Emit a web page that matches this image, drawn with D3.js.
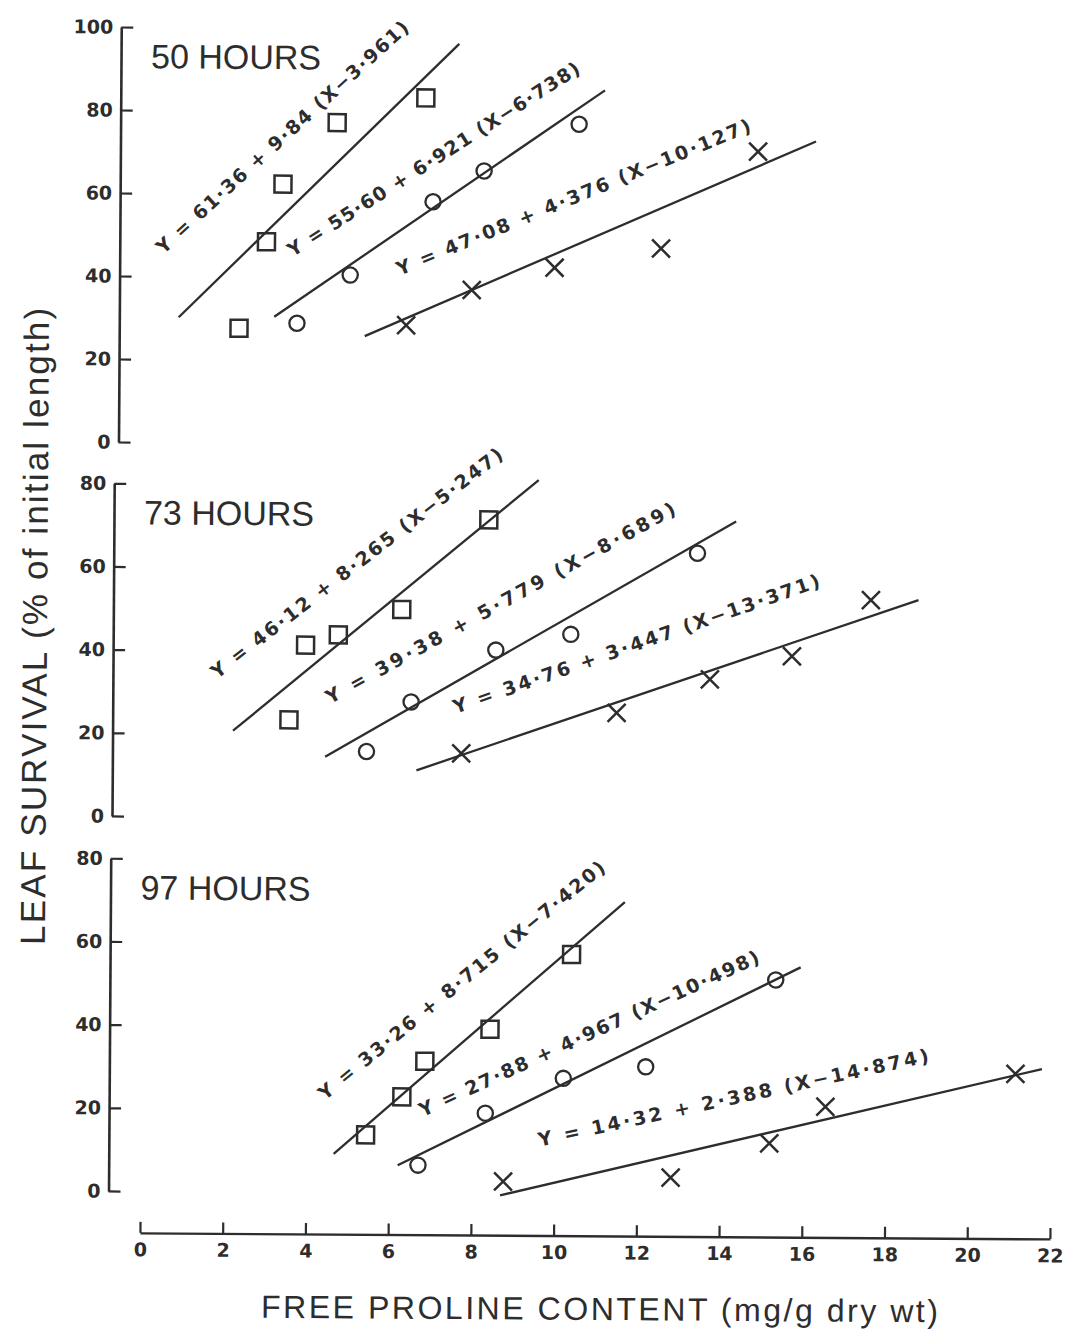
<!DOCTYPE html>
<html>
<head>
<meta charset="utf-8">
<script src="https://cdn.jsdelivr.net/npm/d3@7"></script>
<style>
  html, body { margin: 0; padding: 0; background: #fff; }
  svg { display: block; }
</style>
</head>
<body>
<script>
// ---- data -------------------------------------------------------------
const xTicks = [0, 2, 4, 6, 8, 10, 12, 14, 16, 18, 20, 22];
const panelTitles = ["50 HOURS", "73 HOURS", "97 HOURS"];
const yTicks50 = [0, 20, 40, 60, 80, 100];
const yTicks73 = [0, 20, 40, 60, 80];
const yTicks97 = [0, 20, 40, 60, 80];

// 50 hours
const sq50X = [2.25, 2.90, 3.29, 4.59, 6.73];
const sq50Y = [27.6, 48.5, 62.4, 77.3, 83.4];
const ci50X = [3.65, 4.93, 6.92, 8.15, 10.44];
const ci50Y = [28.9, 40.6, 58.4, 65.9, 77.3];
const cr50X = [6.29, 7.87, 9.87, 12.44, 14.77];
const cr50Y = [28.6, 37.2, 42.7, 47.5, 71.0];
// 73 hours
const sq73X = [3.52, 3.91, 4.70, 6.23, 8.32];
const sq73Y = [23.4, 41.4, 43.9, 50.1, 71.8];
const ci73X = [5.40, 6.47, 8.51, 10.32, 13.37];
const ci73Y = [15.9, 27.9, 40.5, 44.4, 64.1];
const cr73X = [7.69, 11.44, 13.69, 15.67, 17.57];
const cr73Y = [15.6, 25.6, 33.8, 39.5, 53.1];
// 97 hours
const sq97X = [5.44, 6.31, 6.86, 8.43, 10.39];
const sq97Y = [13.9, 23.1, 31.7, 39.5, 57.6];
const ci97X = [6.71, 8.33, 10.21, 12.20, 15.33];
const ci97Y = [6.7, 19.3, 27.8, 30.7, 51.8];
const cr97X = [8.77, 12.82, 15.20, 16.55, 21.14];
const cr97Y = [2.9, 4.1, 12.5, 21.4, 29.6];

// regression lines Y = a + b (X - xbar), drawn over [from, to]
const fitA    = [[61.36, 55.60, 47.08], [46.12, 39.38, 34.76], [33.26, 27.88, 14.32]];
const fitB    = [[9.84, 6.921, 4.376], [8.265, 5.779, 3.447], [8.715, 4.967, 2.388]];
const fitXbar = [[3.961, 6.738, 10.127], [5.247, 8.689, 13.371], [7.420, 10.498, 14.874]];
const fitFrom = [[0.79, 3.10, 5.29], [2.17, 4.40, 6.61], [4.67, 6.22, 8.70]];
const fitTo   = [[7.53, 11.06, 16.17], [9.52, 14.30, 18.72], [11.67, 15.93, 21.78]];

// ---- layout -------------------------------------------------------------
const W = 1078, H = 1337;
const ink = "#2d2d2d";
const shapes = ["square", "circle", "cross"];

const panelLayout = [
  { yMax: 100, ticks: yTicks50, axisX: 117, y0: 444.8, yTop: 29.8 },
  { yMax: 80,  ticks: yTicks73, axisX: 113, y0: 818.8, yTop: 486.1 },
  { yMax: 80,  ticks: yTicks97, axisX: 112, y0: 1193.8, yTop: 861.1 }
];
// equation label placement: centre (in data units), angle (deg), run length (px)
const labelLayout = [
  [{ lx: 3.26, ly: 73.8, ang: 42.8, len: 334 },
   { lx: 6.92, ly: 68.7, ang: 33.0, len: 343 },
   { lx: 10.31, ly: 59.8, ang: 22.7, len: 381 }],
  [{ lx: 5.13, ly: 61.3, ang: 38.1, len: 363 },
   { lx: 8.61, ly: 51.9, ang: 29.2, len: 396 },
   { lx: 11.90, ly: 42.3, ang: 19.6, len: 387 }],
  [{ lx: 7.73, ly: 51.3, ang: 39.7, len: 364 },
   { lx: 10.82, ly: 38.7, ang: 25.0, len: 372 },
   { lx: 14.32, ly: 23.5, ang: 12.6, len: 399 }]
];

const pointsX = [[sq50X, ci50X, cr50X], [sq73X, ci73X, cr73X], [sq97X, ci97X, cr97X]];
const pointsY = [[sq50Y, ci50Y, cr50Y], [sq73Y, ci73Y, cr73Y], [sq97Y, ci97Y, cr97Y]];

const dot = v => v.replace(".", "\u00B7");
function equation(a, b, xbar) {
  return "Y = " + dot(a.toFixed(2)) + " + " + dot(String(b)) +
         " (X\u2212" + dot(xbar.toFixed(3)) + ")";
}

// ---- drawing -------------------------------------------------------------
const svg = d3.select("body").append("svg")
  .attr("width", W).attr("height", H)
  .attr("viewBox", `0 0 ${W} ${H}`);
svg.append("rect").attr("width", W).attr("height", H).attr("fill", "#fff");

const root = svg.append("g").attr("transform", "rotate(0.38 539 668)");

const x = d3.scaleLinear().domain([0, 22]).range([143.7, 1053.7]);
const axisY = 1235.5;

const tickFont = "'DejaVu Sans', sans-serif";

// shared x axis (ticks pointing up, labels below)
const gx = root.append("g").attr("transform", `translate(0,${axisY})`)
  .call(d3.axisBottom(x).tickValues(xTicks).tickSizeInner(-11).tickSizeOuter(0).tickPadding(10));
gx.select(".domain").attr("stroke", ink).attr("stroke-width", 2.4);
gx.selectAll(".tick line").attr("stroke", ink).attr("stroke-width", 2.2);
gx.selectAll(".tick text")
  .attr("fill", ink).attr("font-family", tickFont).attr("font-weight", "bold")
  .attr("font-size", 19);

// x title
root.append("text")
  .attr("x", 603.8).attr("y", 1319.6)
  .attr("text-anchor", "middle")
  .attr("font-family", "'Liberation Sans', Arial, sans-serif")
  .attr("font-size", 32).attr("fill", ink)
  .attr("textLength", 677).attr("lengthAdjust", "spacing")
  .text("FREE PROLINE CONTENT (mg/g dry wt)");

// y title
root.append("text")
  .attr("transform", "translate(46.7,629.7) rotate(-90)")
  .attr("text-anchor", "middle")
  .attr("font-family", "'Liberation Sans', Arial, sans-serif")
  .attr("font-size", 35).attr("fill", ink)
  .attr("textLength", 637).attr("lengthAdjust", "spacing")
  .text("LEAF SURVIVAL (% of initial length)");

function drawMarker(sel, shape, cx, cy) {
  if (shape === "square") {
    sel.append("rect")
      .attr("x", cx - 8.5).attr("y", cy - 8.5).attr("width", 17).attr("height", 17)
      .attr("fill", "none").attr("stroke", ink).attr("stroke-width", 2.5);
  } else if (shape === "circle") {
    sel.append("circle").attr("cx", cx).attr("cy", cy).attr("r", 7.6)
      .attr("fill", "none").attr("stroke", ink).attr("stroke-width", 2.3);
  } else {
    const s = 9;
    sel.append("path")
      .attr("d", `M${cx - s},${cy - s}L${cx + s},${cy + s}M${cx - s},${cy + s}L${cx + s},${cy - s}`)
      .attr("fill", "none").attr("stroke", ink).attr("stroke-width", 2.5);
  }
}

panelLayout.forEach((p, pi) => {
  const y = d3.scaleLinear().domain([0, p.yMax]).range([p.y0, p.yTop]);
  const g = root.append("g");

  // y axis (ticks pointing right, labels left)
  const gy = g.append("g").attr("transform", `translate(${p.axisX},0)`)
    .call(d3.axisLeft(y).tickValues(p.ticks).tickSizeInner(-12).tickSizeOuter(0).tickPadding(8));
  gy.select(".domain").attr("stroke", ink).attr("stroke-width", 2.6);
  gy.selectAll(".tick line").attr("stroke", ink).attr("stroke-width", 2.2);
  gy.selectAll(".tick text")
    .attr("fill", ink).attr("font-family", tickFont).attr("font-weight", "bold")
    .attr("font-size", 19);

  // panel title
  g.append("text")
    .attr("x", p.axisX + 30).attr("y", p.yTop + 41)
    .attr("font-family", "'Liberation Sans', Arial, sans-serif")
    .attr("font-size", 34).attr("fill", ink)
    .text(panelTitles[pi]);

  shapes.forEach((shape, si) => {
    const a = fitA[pi][si], b = fitB[pi][si], xb = fitXbar[pi][si];
    const ends = [fitFrom[pi][si], fitTo[pi][si]];
    const line = d3.line().x(d => x(d)).y(d => y(a + b * (d - xb)));
    g.append("path").datum(ends)
      .attr("d", line)
      .attr("fill", "none").attr("stroke", ink).attr("stroke-width", 2.3);

    const xs = pointsX[pi][si], ys = pointsY[pi][si];
    const mg = g.append("g");
    xs.forEach((xv, k) => drawMarker(mg, shape, x(xv), y(ys[k])));

    const L = labelLayout[pi][si];
    g.append("text")
      .attr("transform", `translate(${x(L.lx)},${y(L.ly)}) rotate(${-L.ang})`)
      .attr("text-anchor", "middle")
      .attr("dominant-baseline", "central")
      .attr("font-family", tickFont).attr("font-weight", "bold")
      .attr("font-size", 19).attr("fill", ink)
      .attr("textLength", L.len).attr("lengthAdjust", "spacing")
      .text(equation(a, b, xb));
  });
});
</script>
</body>
</html>
